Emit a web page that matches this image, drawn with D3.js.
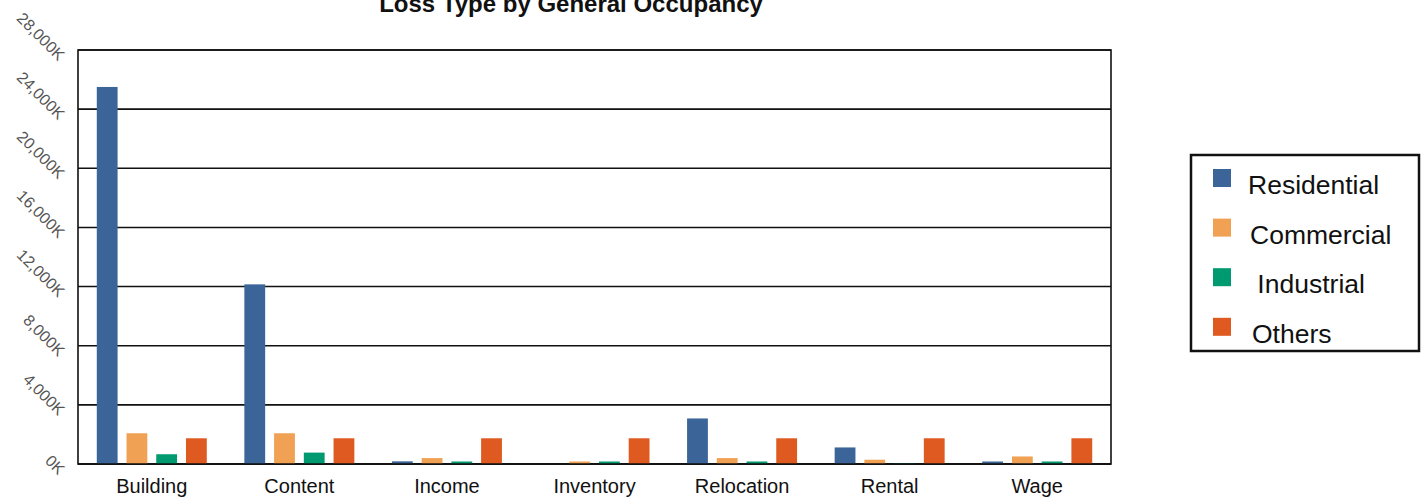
<!DOCTYPE html>
<html>
<head>
<meta charset="utf-8">
<script src="https://cdn.jsdelivr.net/npm/d3@7"></script>
<style>
  html, body { margin: 0; padding: 0; background: #fff; }
  svg { display: block; font-family: "Liberation Sans", Arial, sans-serif; }
</style>
</head>
<body>
<svg id="chart" width="1424" height="500"></svg>
<script>
// Loss types (categories) and occupancy groups (series), values in thousands
const categories = ["Building", "Content", "Income", "Inventory", "Relocation", "Rental", "Wage"];
const seriesNames = ["Residential", "Commercial", "Industrial", "Others"];
const residential = [25500, 12150, 180, 0, 3080, 1120, 170];
const commercial  = [2080, 2080, 400, 170, 400, 290, 510];
const industrial  = [660, 770, 170, 170, 170, 40, 170];
const others      = [1740, 1740, 1740, 1740, 1740, 1740, 1740];
const yTicks = [0, 4000, 8000, 12000, 16000, 20000, 24000, 28000];
const seriesColors = ["#3b6598", "#f1a153", "#009a70", "#de5a20"];
const legendLabels = ["Residential", "Commercial", " Industrial", "Others"];

const seriesValues = [residential, commercial, industrial, others];
const rows = categories.map((c, i) => ({
  category: c,
  values: seriesNames.map((s, j) => ({ key: s, value: seriesValues[j][i] }))
}));

const svg = d3.select("#chart");
const plot = { left: 78, right: 1111, top: 50, bottom: 464 };

const x0 = d3.scaleBand().domain(categories).range([plot.left, plot.right]).paddingInner(0).paddingOuter(0);
const groupWidth = 110;
const x1 = d3.scaleBand().domain(seriesNames).range([0, groupWidth]).paddingInner(0.3).paddingOuter(0);
const y = d3.scaleLinear().domain([0, 28000]).range([plot.bottom, plot.top]);
const color = d3.scaleOrdinal().domain(seriesNames).range(seriesColors);

// Title
svg.append("text")
  .attr("x", 571).attr("y", 12)
  .attr("text-anchor", "middle")
  .attr("font-weight", "bold")
  .attr("font-size", 24)
  .attr("fill", "#111")
  .text("Loss Type by General Occupancy");

// Horizontal gridlines
svg.append("g")
  .selectAll("line")
  .data(yTicks)
  .join("line")
  .attr("x1", plot.left).attr("x2", plot.right)
  .attr("y1", d => y(d)).attr("y2", d => y(d))
  .attr("stroke", "#111").attr("stroke-width", 1.6);

// Plot frame
svg.append("rect")
  .attr("x", plot.left).attr("y", plot.top)
  .attr("width", plot.right - plot.left).attr("height", plot.bottom - plot.top)
  .attr("fill", "none").attr("stroke", "#111").attr("stroke-width", 1.6);

// Bars
const groups = svg.append("g")
  .selectAll("g")
  .data(rows)
  .join("g")
  .attr("transform", d => `translate(${x0(d.category) + (x0.bandwidth() - groupWidth) / 2},0)`);

groups.selectAll("rect")
  .data(d => d.values)
  .join("rect")
  .attr("x", d => x1(d.key))
  .attr("width", x1.bandwidth())
  .attr("y", d => y(d.value))
  .attr("height", d => y(0) - y(d.value))
  .attr("fill", d => color(d.key));

// Redraw baseline over the bars
svg.append("line")
  .attr("x1", plot.left).attr("x2", plot.right)
  .attr("y1", y(0)).attr("y2", y(0))
  .attr("stroke", "#111").attr("stroke-width", 1.6);

// Y axis labels, rotated diagonally
const fmt = d3.format(",");
const yAxis = d3.axisLeft(y).tickValues(yTicks).tickSize(0).tickFormat(d => fmt(d) + "K");
const yg = svg.append("g").attr("transform", `translate(${plot.left},0)`).call(yAxis);
yg.select(".domain").remove();
yg.selectAll(".tick text")
  .attr("font-size", 16)
  .attr("font-family", "'Liberation Sans', Arial, sans-serif")
  .attr("fill", "#555")
  .attr("x", 0).attr("dy", 0)
  .attr("text-anchor", "end")
  .attr("transform", "translate(-20,11) rotate(45)");

// X axis category labels
const xAxis = d3.axisBottom(x0).tickSize(0);
const xg = svg.append("g").attr("transform", `translate(0,${plot.bottom})`).call(xAxis);
xg.select(".domain").remove();
xg.selectAll(".tick text")
  .attr("font-size", 20)
  .attr("font-family", "'Liberation Sans', Arial, sans-serif")
  .attr("fill", "#111")
  .attr("y", 29).attr("dy", 0);

// Legend
const legend = svg.append("g");
legend.append("rect")
  .attr("x", 1191).attr("y", 155)
  .attr("width", 228).attr("height", 196)
  .attr("fill", "#fff").attr("stroke", "#111").attr("stroke-width", 2.5);

const labelOffsets = [35, 37, 37, 39];
const items = legend.selectAll("g.item")
  .data(seriesNames)
  .join("g")
  .attr("class", "item")
  .attr("transform", (d, i) => `translate(1213,${169 + i * 49.6})`);
items.append("rect")
  .attr("width", 18).attr("height", 18)
  .attr("fill", d => color(d));
items.append("text")
  .attr("x", (d, i) => labelOffsets[i])
  .attr("y", 25)
  .attr("font-size", 26.5)
  .attr("fill", "#111")
  .attr("xml:space", "preserve")
  .style("white-space", "pre")
  .text((d, i) => legendLabels[i]);
</script>
</body>
</html>
